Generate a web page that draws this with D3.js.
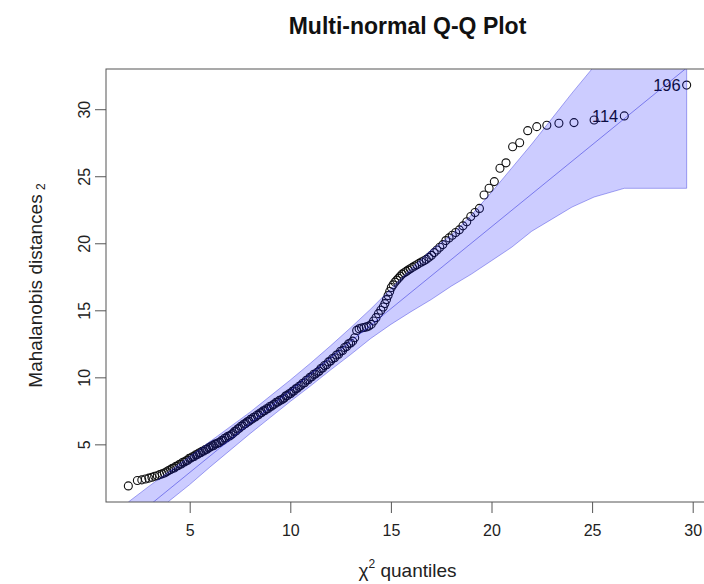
<!DOCTYPE html>
<html>
<head>
<meta charset="utf-8">
<script src="https://cdn.jsdelivr.net/npm/d3@7/dist/d3.min.js"></script>
<style>
  html, body { margin: 0; padding: 0; background: #fff; }
  svg text { font-family: "Liberation Sans", Arial, Helvetica, sans-serif; fill: #222; }
</style>
</head>
<body>
<div id="graph"></div>
<script>
// chi-square quantiles (x) and sorted squared Mahalanobis distances (y)
const chisqQuantiles = [
  1.95, 2.40, 2.62, 2.80, 2.97, 3.12, 3.26, 3.39, 3.51, 3.63, 3.74, 3.85, 3.95,
  4.05, 4.14, 4.23, 4.32, 4.41, 4.50, 4.58, 4.66, 4.74, 4.82, 4.90, 4.98, 5.06, 5.14, 5.22, 5.30, 5.38, 5.46, 5.54, 5.62, 5.70, 5.78, 5.86, 5.94,
  6.02, 6.10, 6.18, 6.26, 6.34, 6.42, 6.50, 6.58, 6.66, 6.74, 6.82, 6.90, 6.98, 7.06, 7.14, 7.22, 7.30, 7.38, 7.46, 7.54,
  7.62, 7.70, 7.78, 7.86, 7.94, 8.02, 8.10, 8.18, 8.26, 8.34, 8.42, 8.50, 8.58, 8.66, 8.74, 8.82, 8.90, 8.98, 9.06, 9.14,
  9.22, 9.30, 9.38, 9.46, 9.54, 9.62, 9.70, 9.78, 9.86, 9.94, 10.02, 10.10, 10.18, 10.26, 10.35, 10.44, 10.53, 10.62, 10.71, 10.80,
  10.89, 10.98, 11.07, 11.16, 11.25, 11.34, 11.43, 11.52, 11.61, 11.70, 11.80, 11.90,
  12.00, 12.10, 12.20, 12.30, 12.40, 12.50, 12.60, 12.70, 12.80, 12.90, 13.00, 13.10, 13.20, 13.30, 13.42, 13.54, 13.66, 13.78, 13.90, 14.02,
  14.14, 14.26, 14.38, 14.50,
  14.62, 14.70, 14.78, 14.86, 14.94, 15.02, 15.11, 15.20, 15.29, 15.38, 15.47, 15.56, 15.66, 15.76, 15.86, 15.96, 16.07, 16.18, 16.29, 16.40,
  16.52, 16.64, 16.76, 16.89, 17.02, 17.15, 17.29, 17.43, 17.58, 17.73, 17.89, 18.05, 18.22, 18.40, 18.58, 18.77, 18.97, 19.18, 19.40, 19.63,
  19.88, 20.14, 20.42, 20.72, 21.05, 21.40, 21.80, 22.25, 22.75, 23.35, 24.10, 25.10, 26.60, 29.70
];
const mahalanobisSq = [
  1.90, 2.30, 2.35, 2.42, 2.48, 2.55, 2.62, 2.66, 2.74, 2.80, 2.86, 2.95, 3.05,
  3.12, 3.22, 3.24, 3.36, 3.40, 3.52, 3.54, 3.66, 3.68, 3.78, 3.82, 3.96, 3.98, 4.08, 4.10, 4.22, 4.24, 4.36, 4.38, 4.48, 4.50, 4.62, 4.64, 4.74,
  4.80, 4.90, 4.90, 5.02, 5.04, 5.12, 5.15, 5.28, 5.30, 5.45, 5.48, 5.60, 5.62, 5.72, 5.80, 5.95, 6.00, 6.14, 6.20, 6.34,
  6.38, 6.52, 6.56, 6.68, 6.72, 6.86, 6.88, 7.02, 7.04, 7.18, 7.20, 7.34, 7.38, 7.50, 7.52, 7.66, 7.68, 7.82, 7.84, 7.96,
  8.00, 8.14, 8.16, 8.28, 8.30, 8.38, 8.46, 8.62, 8.64, 8.78, 8.80, 8.95, 8.98, 9.14, 9.18, 9.34, 9.40, 9.56, 9.60, 9.78,
  9.82, 10.00, 10.04, 10.22, 10.24, 10.38, 10.46, 10.66, 10.70, 10.88, 10.94, 11.15,
  11.22, 11.40, 11.46, 11.66, 11.72, 11.94, 12.00, 12.22, 12.30, 12.50, 12.56, 12.70, 12.95, 13.50, 13.62, 13.68, 13.72, 13.76, 13.82, 13.95,
  14.20, 14.45, 14.75, 15.00,
  15.25, 15.50, 15.80, 16.10, 16.40, 16.70, 16.90, 17.10, 17.25, 17.40, 17.55, 17.70, 17.80, 17.90, 18.00, 18.10, 18.20, 18.30, 18.40, 18.50,
  18.60, 18.70, 18.80, 18.95, 19.10, 19.30, 19.50, 19.70, 19.90, 20.20, 20.40, 20.60, 20.80, 21.00, 21.30, 21.60, 22.00, 22.30, 22.60, 23.60,
  24.10, 24.60, 25.60, 26.00, 27.20, 27.50, 28.40, 28.70, 28.80, 28.95, 29.00, 29.20, 29.50, 31.80
];
// ids of the two largest distances
const outlierIds = ["114", "196"];

// pointwise confidence envelope
const envX = [1.95, 3, 4, 5, 6, 7, 8, 9, 10, 11, 12, 13, 14, 15, 16, 17, 18, 19, 20, 21, 22, 23, 24, 25.1, 26.6, 29.7];
const envUpper = [0.7, 1.9, 3.0, 4.1, 5.2, 6.3, 7.4, 8.6, 9.8, 11.05, 12.35, 13.7, 15.1, 16.6, 18.1, 19.5, 20.6, 22.1, 23.8, 25.6, 27.4, 29.3, 31.2, 33.2, 36.0, 41.5];
const envLower = [-2.5, -0.6, 0.8, 2.0, 3.3, 4.55, 5.8, 7.0, 8.2, 9.35, 10.55, 11.7, 12.9, 13.95, 14.9, 15.8, 16.8, 17.7, 18.7, 19.7, 20.9, 21.8, 22.7, 23.45, 24.1, 24.1];

// reference line
const refIntercept = -3.21;
const refSlope = 1.222;

const xTicks = [5, 10, 15, 20, 25, 30];
const yTicks = [5, 10, 15, 20, 25, 30];

const width = 704, height = 584;
const plot = {left: 106, right: 709, top: 69, bottom: 502};

const svg = d3.select("#graph")
  .append("svg")
  .attr("width", width)
  .attr("height", height);

const x = d3.scaleLinear().domain([0.84, 30.81]).range([plot.left, plot.right]);
const y = d3.scaleLinear().domain([0.7, 33.0]).range([plot.bottom, plot.top]);

svg.append("defs").append("clipPath")
  .attr("id", "clip")
  .append("rect")
  .attr("x", plot.left)
  .attr("y", plot.top)
  .attr("width", plot.right - plot.left)
  .attr("height", plot.bottom - plot.top);

const points = d3.zip(chisqQuantiles, mahalanobisSq);
const inner = svg.append("g").attr("clip-path", "url(#clip)");

// points first, the translucent band is laid over them
inner.append("g").selectAll("circle").data(points).enter()
  .append("circle")
  .attr("cx", d => x(d[0]))
  .attr("cy", d => y(d[1]))
  .attr("r", 4)
  .attr("fill", "none")
  .attr("stroke", "#111")
  .attr("stroke-width", 1.1);

const labelled = points.slice(-outlierIds.length);
inner.append("g").selectAll("text").data(labelled).enter()
  .append("text")
  .attr("x", d => x(d[0]) - 6)
  .attr("y", d => y(d[1]) + 6)
  .attr("text-anchor", "end")
  .attr("font-size", 16.5)
  .style("fill", "#111")
  .text((d, i) => outlierIds[i]);

const env = d3.zip(envX, envUpper, envLower);
const area = d3.area()
  .x(d => x(d[0]))
  .y0(d => y(d[2]))
  .y1(d => y(d[1]));

inner.append("path")
  .attr("d", area(env) + "Z")
  .attr("fill", "rgba(0,0,255,0.2)")
  .attr("stroke", "rgba(40,40,220,0.4)")
  .attr("stroke-width", 1);

const xDom = x.domain();
inner.append("line")
  .attr("x1", x(xDom[0]))
  .attr("y1", y(refIntercept + refSlope * xDom[0]))
  .attr("x2", x(xDom[1]))
  .attr("y2", y(refIntercept + refSlope * xDom[1]))
  .attr("stroke", "rgba(40,40,220,0.5)")
  .attr("stroke-width", 1);

// frame
svg.append("rect")
  .attr("x", plot.left)
  .attr("y", plot.top)
  .attr("width", plot.right - plot.left)
  .attr("height", plot.bottom - plot.top)
  .attr("fill", "none")
  .attr("stroke", "#555")
  .attr("stroke-width", 1);

// axes
const xAxis = svg.append("g")
  .attr("transform", `translate(0,${plot.bottom})`)
  .call(d3.axisBottom(x).tickValues(xTicks).tickSize(11).tickPadding(12));
xAxis.select(".domain").remove();
xAxis.selectAll("line").attr("stroke", "#555");
xAxis.selectAll("text").attr("font-size", 16).attr("fill", "#222")
  .attr("font-family", "Liberation Sans, Arial, sans-serif");

const yAxis = svg.append("g")
  .attr("transform", `translate(${plot.left},0)`)
  .call(d3.axisLeft(y).tickValues(yTicks).tickSize(11).tickFormat(d3.format("d")));
yAxis.select(".domain").remove();
yAxis.selectAll("line").attr("stroke", "#555");
yAxis.selectAll("text")
  .attr("font-size", 16).attr("fill", "#222")
  .attr("font-family", "Liberation Sans, Arial, sans-serif")
  .attr("text-anchor", "middle")
  .attr("x", null).attr("dy", null)
  .attr("transform", "translate(-16,0) rotate(-90)");

// titles
svg.append("text")
  .attr("x", (plot.left + plot.right) / 2)
  .attr("y", 34)
  .attr("text-anchor", "middle")
  .attr("font-size", 23)
  .attr("font-weight", "bold")
  .style("fill", "#111")
  .text("Multi-normal Q-Q Plot");

const xl = svg.append("text")
  .attr("x", (plot.left + plot.right) / 2)
  .attr("y", 577)
  .attr("text-anchor", "middle")
  .attr("font-size", 19);
xl.append("tspan").text("χ");
xl.append("tspan").attr("dy", -9).attr("font-size", 12).text("2");
xl.append("tspan").attr("dy", 9).text(" quantiles");

const yl = svg.append("g").attr("transform", `translate(42,291) rotate(-90)`);
yl.append("text")
  .attr("text-anchor", "middle")
  .attr("font-size", 19)
  .text("Mahalanobis distances");
yl.append("text")
  .attr("x", 101)
  .attr("y", 3)
  .attr("font-size", 12)
  .text("2");
</script>
</body>
</html>
